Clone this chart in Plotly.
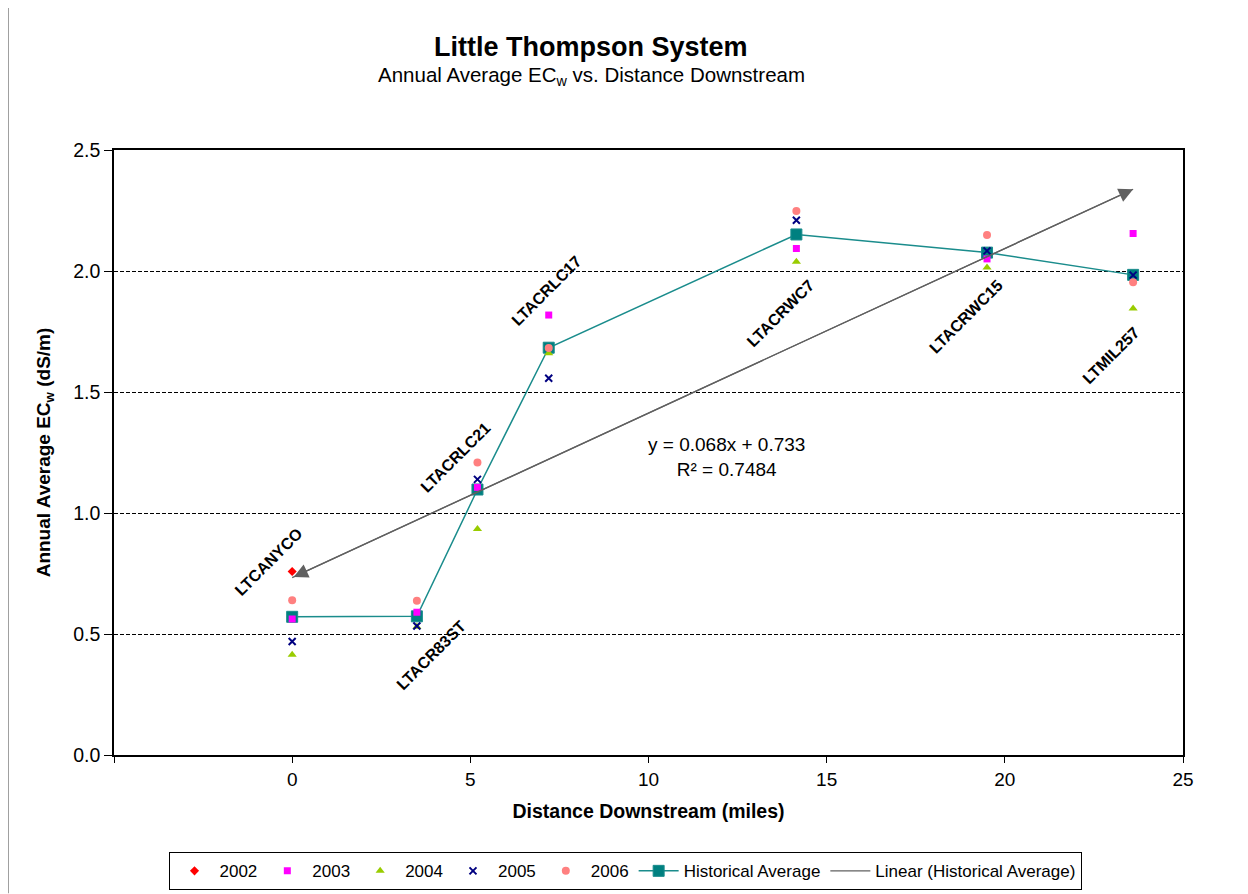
import plotly.graph_objects as go

# ---------------- data ----------------
stations = ["LTCANYCO", "LTACR83ST", "LTACRLC21", "LTACRLC17", "LTACRWC7", "LTACRWC15", "LTMIL257"]
distance = [0.0, 3.5, 5.2, 7.2, 14.15, 19.5, 23.6]

ec_2002 = [0.758, None, None, None, None, None, None]
ec_2003 = [0.562, 0.59, 1.106, 1.818, 2.093, 2.050, 2.155]
ec_2004 = [0.414, 0.53, 0.934, 1.660, 2.038, 2.014, 1.845]
ec_2005 = [0.469, 0.533, 1.139, 1.557, 2.210, 2.083, 1.983]
ec_2006 = [0.639, 0.637, 1.209, 1.682, 2.248, 2.149, 1.953]
hist_avg = [0.571, 0.573, 1.097, 1.683, 2.151, 2.076, 1.984]

trend_slope = 0.068
trend_intercept = 0.733
trend_r2 = 0.7484

x_ticks = [-5, 0, 5, 10, 15, 20, 25]
x_tick_labels = ["", "0", "5", "10", "15", "20", "25"]
y_ticks = [0.0, 0.5, 1.0, 1.5, 2.0, 2.5]

# label pixel offsets (style, not data)
label_shift = [(-23, 55), (14, -39), (-22, 32), (-2, 57), (-16, -79), (-21, -64), (-22, -81)]

FONT = "Arial, Liberation Sans, sans-serif"

# page has 8px body margin -> work in screen pixels and convert
OFF = 8
W, H = 1240, 886
PL, PR, PT, PB = 114, 1183, 149.5, 755.5  # plot area in screen pixels
ML, MT = PL - OFF, PT - OFF
MR = W - (PR - OFF)
MB = H - (PB - OFF)


def px(xs):
    return (xs - PL) / (PR - PL)


def py(ys):
    return (PB - ys) / (PB - PT)


fig = go.Figure()

series = [
    ("2002", ec_2002, dict(symbol="diamond", color="#FF0000", size=7)),
    ("2003", ec_2003, dict(symbol="square", color="#FF00FF", size=7)),
    ("2004", ec_2004, dict(symbol="triangle-up", color="#99CC00", size=8)),
    ("2005", ec_2005, dict(symbol="x-thin", color="#000080", size=7, line=dict(width=2, color="#000080"))),
    ("2006", ec_2006, dict(symbol="circle", color="#FF8080", size=8)),
]

x0, x1 = distance[0], distance[-1]
trend_x = [x0, x1]
trend_y = [trend_slope * v + trend_intercept for v in trend_x]

fig.add_trace(go.Scatter(
    x=distance, y=hist_avg, mode="lines+markers", name="Historical Average",
    line=dict(color="#1A8C8C", width=1.5),
    marker=dict(symbol="square", size=11, color="#008080", line=dict(color="#1A8C8C", width=1)),
    legendrank=6,
))

for i, (name, vals, mk) in enumerate(series):
    fig.add_trace(go.Scatter(x=distance, y=vals, mode="markers", name=name, marker=mk, legendrank=i + 1))

fig.add_trace(go.Scatter(
    x=trend_x, y=trend_y, mode="lines", name="Linear (Historical Average)",
    line=dict(color="#606060", width=1.3), legendrank=7,
))

annotations = []
annotations.append(dict(
    x=trend_x[1], y=trend_y[1], ax=trend_x[0], ay=trend_y[0],
    xref="x", yref="y", axref="x", ayref="y",
    showarrow=True, arrowhead=2, arrowside="end+start", arrowsize=2.2, arrowwidth=1.3,
    arrowcolor="#606060", text="",
))

for st, xv, yv, (dx, dy) in zip(stations, distance, hist_avg, label_shift):
    annotations.append(dict(
        x=xv, y=yv, xref="x", yref="y", text=st, showarrow=False, textangle=-45,
        xshift=dx, yshift=dy, font=dict(family=FONT, size=16, color="black", weight="bold"),
    ))

annotations.append(dict(
    x=px(726), y=py(457), xref="paper", yref="paper", xanchor="center", yanchor="middle",
    text=f"y = {trend_slope:.3f}x + {trend_intercept:.3f}<br>R² = {trend_r2:.4f}",
    showarrow=False, font=dict(family=FONT, size=19, color="black"), align="center",
))

annotations.append(dict(
    x=px(591), y=py(46), xref="paper", yref="paper", xanchor="center", yanchor="middle",
    text="<b>Little Thompson System</b>", showarrow=False,
    font=dict(family=FONT, size=27, color="black"),
))
annotations.append(dict(
    x=px(591), y=py(75), xref="paper", yref="paper", xanchor="center", yanchor="middle",
    text="Annual Average EC<sub>w</sub> vs. Distance Downstream", showarrow=False,
    font=dict(family=FONT, size=20.5, color="black"),
))

shapes = [dict(
    type="line", xref="paper", yref="paper",
    x0=px(8), x1=px(8), y0=py(0), y1=py(894),
    line=dict(color="#808080", width=1.5),
)]

fig.update_layout(
    width=W, height=H,
    margin=dict(l=ML, r=MR, t=MT, b=MB, autoexpand=False),
    paper_bgcolor="white", plot_bgcolor="white",
    font=dict(family=FONT, size=18, color="black"),
    showlegend=True,
    legend=dict(
        orientation="h", x=px(625), xanchor="center", y=py(872), yanchor="middle",
        bordercolor="black", borderwidth=1, font=dict(family=FONT, size=17, color="black"),
        traceorder="normal", itemwidth=40, tracegroupgap=0,
    ),
    annotations=annotations,
    shapes=shapes,
)

fig.update_xaxes(
    range=[-5, 25], tickvals=x_ticks, ticktext=x_tick_labels,
    showline=True, linecolor="black", linewidth=1.5, mirror=True,
    ticks="outside", ticklen=6, tickcolor="black", showgrid=False, zeroline=False,
    tickfont=dict(family=FONT, size=19, color="black"),
    title=dict(text="<b>Distance Downstream (miles)</b>", font=dict(family=FONT, size=19.5, color="black"), standoff=16),
)
fig.update_yaxes(
    range=[0, 2.5], tickvals=y_ticks, tickformat=".1f",
    showline=True, linecolor="black", linewidth=1.5, mirror=True,
    ticks="outside", ticklen=8, tickcolor="black",
    showgrid=True, gridcolor="black", griddash="4px,2px", gridwidth=1, zeroline=False,
    tickfont=dict(family=FONT, size=19.5, color="black"),
    title=dict(text="<b>Annual Average EC<sub>w</sub> (dS/m)</b>", font=dict(family=FONT, size=19, color="black"), standoff=18),
)

fig.write_html("out.html")
